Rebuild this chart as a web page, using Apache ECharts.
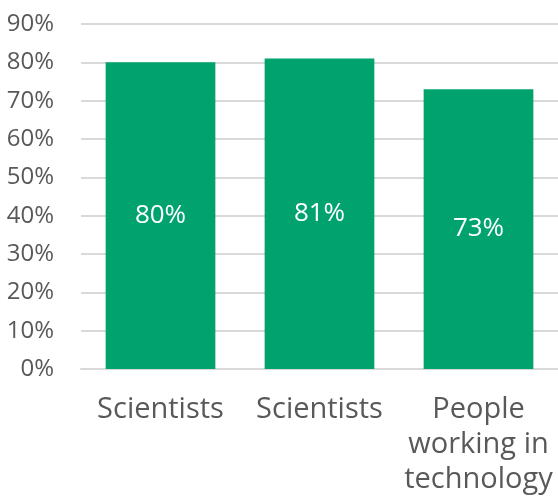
<!DOCTYPE html>
<html><head><meta charset="utf-8">
<script src="https://cdn.jsdelivr.net/npm/echarts@6/dist/echarts.min.js"></script>
<style>html,body{margin:0;padding:0;background:#fff}#c{width:558px;height:498px}</style>
</head><body><div id="c"></div>
<script>
const categories = ["Scientists", "Scientists", "People\nworking in\ntechnology"];
const values = [80, 81, 73];
const yTicks = [0, 10, 20, 30, 40, 50, 60, 70, 80, 90];

const chart = echarts.init(document.getElementById('c'), null, {renderer: 'canvas'});
chart.setOption({
  animation: false,
  grid: {left: 81, right: -1, top: 24, bottom: 129},
  xAxis: {
    type: 'category', data: categories,
    axisLine: {lineStyle: {color: '#d9d9d9', width: 2}},
    axisTick: {show: false},
    axisLabel: {color: '#595959', fontSize: 29, fontFamily: 'Open Sans', lineHeight: 35, margin: 23, interval: 0}
  },
  yAxis: {
    type: 'value', min: yTicks[0], max: yTicks[yTicks.length - 1], interval: 10,
    axisLabel: {color: '#595959', fontSize: 24, fontFamily: 'Open Sans', formatter: '{value}%', margin: 27},
    splitLine: {lineStyle: {color: '#d9d9d9', width: 2}},
    axisLine: {show: false}, axisTick: {show: false}
  },
  series: [{
    type: 'bar', data: values, barWidth: '69%',
    itemStyle: {color: '#00A36E'},
    label: {show: true, position: 'inside', color: '#fff', fontSize: 26, fontFamily: 'Open Sans', formatter: '{c}%'}
  }]
});
</script></body></html>
